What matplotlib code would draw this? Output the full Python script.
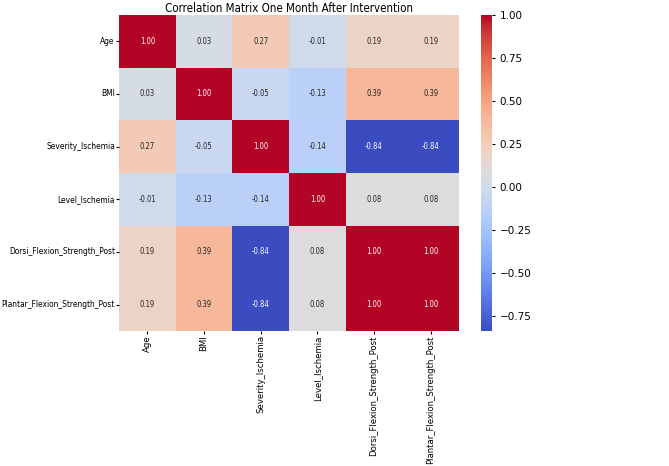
import matplotlib
matplotlib.use("Agg")
import matplotlib.pyplot as plt
import seaborn as sns
import pandas as pd

labels = ["Age", "BMI", "Severity_Ischemia", "Level_Ischemia",
          "Dorsi_Flexion_Strength_Post", "Plantar_Flexion_Strength_Post"]

age = [1.00, 0.03, 0.27, -0.01, 0.19, 0.19]
bmi = [0.03, 1.00, -0.05, -0.13, 0.39, 0.39]
severity = [0.27, -0.05, 1.00, -0.14, -0.84, -0.84]
level = [-0.01, -0.13, -0.14, 1.00, 0.08, 0.08]
dorsi = [0.19, 0.39, -0.84, 0.08, 1.00, 1.00]
plantar = [0.19, 0.39, -0.84, 0.08, 1.00, 1.00]

corr = pd.DataFrame([age, bmi, severity, level, dorsi, plantar],
                    index=labels, columns=labels)

fig = plt.figure(figsize=(6.69, 4.66), dpi=100)
ax = fig.add_axes([119 / 669, 1 - 331 / 466, 340 / 669, 316 / 466])
cax = fig.add_axes([481 / 669, 1 - 331 / 466, 11 / 669, 316 / 466])

sns.heatmap(corr, annot=True, fmt=".2f", cmap="coolwarm", ax=ax, cbar_ax=cax,
            annot_kws={"size": 5.5, "fontstretch": "condensed"})
ax.set_title("Correlation Matrix One Month After Intervention", fontsize=8.3,
             fontstretch="condensed", pad=2)
ax.tick_params(length=2, pad=1)
cax.tick_params(labelsize=7.5, length=2)
for t in ax.get_xticklabels():
    t.set_rotation(90)
    t.set_fontsize(6.8)
    t.set_fontstretch("condensed")
for t in ax.get_yticklabels():
    t.set_rotation(0)
    t.set_fontsize(6)
    t.set_fontstretch("condensed")

fig.savefig("out.png", dpi=100)
